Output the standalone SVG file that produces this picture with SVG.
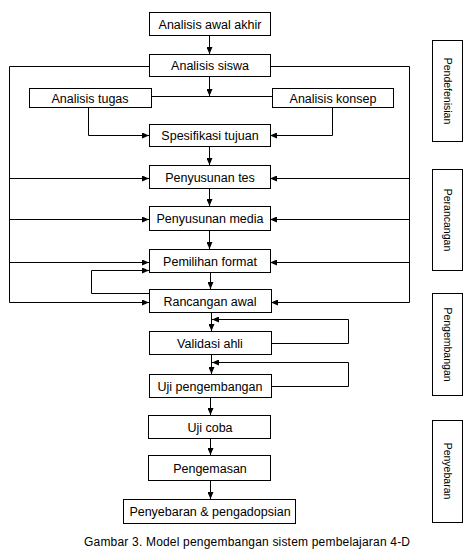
<svg xmlns="http://www.w3.org/2000/svg" width="474" height="557" viewBox="0 0 474 557">
<defs>
<style>
.b{fill:#fff;stroke:#000;stroke-width:1}
.t{font-family:"Liberation Sans",Arial,sans-serif;font-size:12.5px;fill:#000;text-anchor:middle}
.s{font-family:"Liberation Sans",Arial,sans-serif;font-size:10.5px;fill:#000;text-anchor:middle}
.c{fill:none;stroke:#000;stroke-width:1}
</style>
<marker id="a" markerWidth="7" markerHeight="6" refX="7" refY="3" orient="auto" markerUnits="userSpaceOnUse"><path d="M0,0L7,3L0,6z" fill="#000"/></marker>
</defs>
<rect width="474" height="557" fill="#fff"/>
<g id="connectors">
<path class="c" d="M209.5,35V54" marker-end="url(#a)"/>
<path class="c" d="M209.5,76V96" marker-end="url(#a)"/>
<path class="c" d="M152,96.5H272"/>
<path class="c" d="M149,66.5H9.5V302.5"/>
<path class="c" d="M270,66.5H409.5V302.5"/>
<path class="c" d="M88.5,107V135.5H149" marker-end="url(#a)"/>
<path class="c" d="M332.5,107V135.5H270" marker-end="url(#a)"/>
<path class="c" d="M209.5,146V165" marker-end="url(#a)"/>
<path class="c" d="M209.5,188V206" marker-end="url(#a)"/>
<path class="c" d="M209.5,230V249" marker-end="url(#a)"/>
<path class="c" d="M210.5,272V289" marker-end="url(#a)"/>
<path class="c" d="M9.5,178.5H149" marker-end="url(#a)"/>
<path class="c" d="M409.5,178.5H270" marker-end="url(#a)"/>
<path class="c" d="M9.5,219.5H149" marker-end="url(#a)"/>
<path class="c" d="M409.5,219.5H270" marker-end="url(#a)"/>
<path class="c" d="M9.5,262.5H149" marker-end="url(#a)"/>
<path class="c" d="M409.5,262.5H270" marker-end="url(#a)"/>
<path class="c" d="M9.5,302.5H149" marker-end="url(#a)"/>
<path class="c" d="M409.5,302.5H271" marker-end="url(#a)"/>
<path class="c" d="M149,293.5H91.5V270.5H149" marker-end="url(#a)"/>
<path class="c" d="M211.5,312V331" marker-end="url(#a)"/>
<path class="c" d="M272,343.5H348.5V319.5H212" marker-end="url(#a)"/>
<path class="c" d="M211.5,354V374" marker-end="url(#a)"/>
<path class="c" d="M272,386.5H348.5V362.5H212" marker-end="url(#a)"/>
<path class="c" d="M210.5,397V415" marker-end="url(#a)"/>
<path class="c" d="M210.5,438V455" marker-end="url(#a)"/>
<path class="c" d="M210.5,480V499" marker-end="url(#a)"/>
</g>
<g id="n1"><rect class="b" x="149.5" y="12.5" width="121" height="23"/><text class="t" x="210" y="28.5">Analisis awal akhir</text></g>
<g id="n2"><rect class="b" x="149.5" y="54.5" width="121" height="22"/><text class="t" x="210" y="70">Analisis siswa</text></g>
<g id="n3"><rect class="b" x="29.5" y="88.5" width="122" height="19"/><text class="t" x="90" y="102.5">Analisis tugas</text></g>
<g id="n4"><rect class="b" x="272.5" y="88.5" width="121" height="19"/><text class="t" x="333" y="102.5">Analisis konsep</text></g>
<g id="n5"><rect class="b" x="149.5" y="124.5" width="121" height="22"/><text class="t" x="210" y="140">Spesifikasi tujuan</text></g>
<g id="n6"><rect class="b" x="149.5" y="165.5" width="121" height="23"/><text class="t" x="210" y="181.5">Penyusunan tes</text></g>
<g id="n7"><rect class="b" x="149.5" y="206.5" width="121" height="24"/><text class="t" x="210" y="223">Penyusunan media</text></g>
<g id="n8"><rect class="b" x="149.5" y="249.5" width="121" height="23"/><text class="t" x="210" y="265.5">Pemilihan format</text></g>
<g id="n9"><rect class="b" x="149.5" y="289.5" width="122" height="23"/><text class="t" x="210" y="305.5">Rancangan awal</text></g>
<g id="n10"><rect class="b" x="149.5" y="331.5" width="122" height="23"/><text class="t" x="210" y="347.5">Validasi ahli</text></g>
<g id="n11"><rect class="b" x="149.5" y="374.5" width="122" height="23"/><text class="t" x="210" y="390.5">Uji pengembangan</text></g>
<g id="n12"><rect class="b" x="148.5" y="415.5" width="122" height="23"/><text class="t" x="210" y="431.5">Uji coba</text></g>
<g id="n13"><rect class="b" x="148.5" y="455.5" width="122" height="25"/><text class="t" x="210" y="472.5">Pengemasan</text></g>
<g id="n14"><rect class="b" x="123.5" y="499.5" width="172" height="24"/><text class="t" x="210" y="516">Penyebaran &amp; pengadopsian</text></g>
<g id="p1"><rect class="b" x="432.5" y="40.5" width="30" height="101"/><text class="s" transform="translate(444,91) rotate(90)">Pendefenisian</text></g>
<g id="p2"><rect class="b" x="432.5" y="169.5" width="30" height="101"/><text class="s" transform="translate(444,220) rotate(90)">Perancangan</text></g>
<g id="p3"><rect class="b" x="432.5" y="293.5" width="30" height="102"/><text class="s" transform="translate(444,344.5) rotate(90)">Pengembangan</text></g>
<g id="p4"><rect class="b" x="432.5" y="420.5" width="30" height="102"/><text class="s" transform="translate(444,471) rotate(90)">Penyebaran</text></g>
<text x="84" y="546" font-family="Liberation Sans,Arial,sans-serif" font-size="12" textLength="326">Gambar 3. Model pengembangan sistem pembelajaran 4-D</text>
</svg>
